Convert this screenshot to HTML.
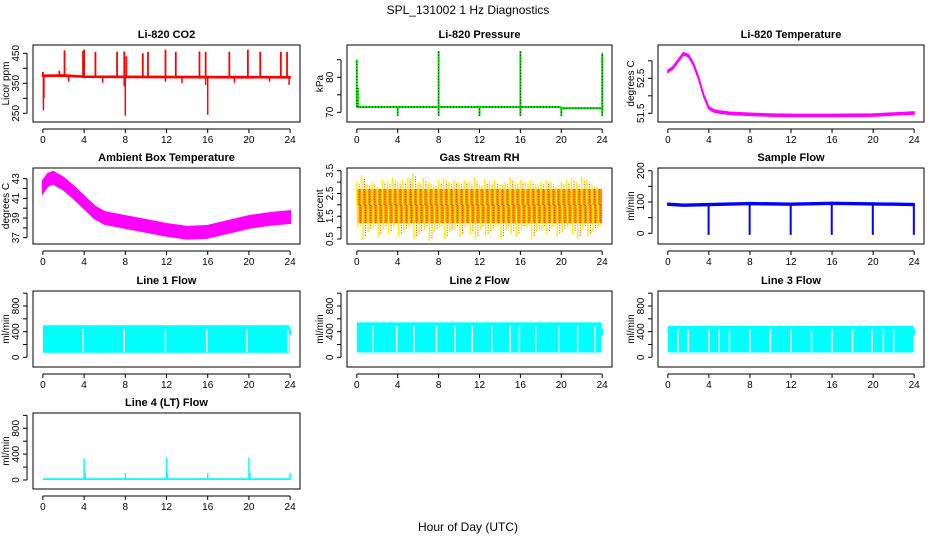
<!DOCTYPE html>
<html><head><meta charset="utf-8"><style>
body{margin:0;background:#fff}
svg{display:block;font-family:"Liberation Sans",sans-serif}
</style></head><body>
<svg id="c" width="936" height="540"></svg>
<script>
// ---- data (hours, values) ----
const hours=[0,4,8,12,16,20,24];
const co2Base=[[0,375],[2,376],[4,372],[12,371],[24,370]];
const co2SpikesUp=[[0,388],[1.6,392],[2.1,460],[3.9,458],[4,462],[5.1,455],[7.2,455],[7.9,456],[8.1,440],[9.7,450],[10.2,455],[11.9,462],[12.9,455],[15.2,456],[15.8,455],[18.1,455],[19.9,462],[21.1,455],[23.1,455],[23.7,455]];
const co2SpikesDown=[[0.05,260],[0.1,300],[8,242],[16,245],[7.9,340],[15.8,345],[23.9,345],[2.5,355],[5.8,352],[11.9,355],[13.5,350],[18.6,352],[22,355]];
const presBase=[[0,71.5],[19.9,71.5],[20,71.2],[24,71.2]];
const presSpikes=[[0,85,71.5],[0.1,77,71.5],[4,71.5,69],[8,87.5,69],[12,71.5,69],[16,87.5,69],[20,71.5,69],[24,87,69]];
const liTemp=[[0,52.7],[0.5,52.8],[1,53.0],[1.5,53.2],[2,53.15],[2.5,52.9],[3,52.5],[3.5,52.0],[4,51.65],[4.5,51.57],[5,51.54],[6,51.5],[8,51.47],[10,51.45],[12,51.44],[16,51.44],[20,51.45],[22,51.48],[24,51.51]];
const ambTemp=[[0,42.2],[0.5,42.9],[1,43.1],[2,42.5],[3,41.6],[4,40.6],[5,39.6],[6,39.0],[8,38.6],[10,38.2],[12,37.8],[14,37.5],[16,37.6],[18,38.1],[20,38.6],[22,38.9],[24,39.1]];
const rhHi=[3.0,3.3,2.9,3.0,2.8,3.1,3.0,3.2,3.0,3.1,3.2,3.4,3.0,3.2,3.0,2.9,3.1,3.2,3.0,3.1,3.0,3.1,3.0,3.2,2.9,3.1,3.0,3.1,2.9,3.0,3.2,3.0,3.1,3.0,3.1,2.9,3.0,3.1,3.0,2.8,3.0,3.1,3.2,3.0,3.2,3.1,2.9,2.8];
const rhLo=[1.0,0.5,0.8,1.0,0.6,0.9,0.7,1.0,0.6,0.8,1.0,0.5,0.7,0.9,0.4,0.8,1.0,0.5,0.8,0.9,0.6,1.0,0.7,0.5,0.9,0.6,0.8,1.0,0.5,0.9,0.7,0.6,0.9,1.0,0.5,0.8,0.9,0.7,1.0,0.6,0.8,1.0,0.7,0.5,0.9,0.6,0.8,1.0];
const sampleBase=[[0,93],[1.5,90],[8,95],[12,93],[16,96],[24,92]];
const sampleDrops=[4,8,12,16,20,24];
const line1=[70,500]; const line1Gaps=[3.9,7.9,11.9,15.9,19.8,23.8];
const line2=[75,545]; const line2Gaps=[1.6,3.9,5.6,7.8,9.6,11.3,13.2,15.0,15.9,17.5,19.8,21.6,23.3];
const line3=[75,490]; const line3Gaps=[1.0,2.0,4.0,5.0,6.0,8.0,10.0,12.0,14.0,16.0,18.0,19.9,21.0,22.0];
const line4Base=15; const line4Spikes=[[4,330],[4.1,110],[8,110],[12,345],[12.1,110],[16,110],[20,345],[20.1,110],[24,110]];
const titles=["Li-820 CO2","Li-820 Pressure","Li-820 Temperature","Ambient Box Temperature","Gas Stream RH","Sample Flow","Line 1 Flow","Line 2 Flow","Line 3 Flow","Line 4 (LT) Flow"];

const svg=document.getElementById('c');
const NS='http://www.w3.org/2000/svg';
function el(t,a,p){const e=document.createElementNS(NS,t);for(const k in a)e.setAttribute(k,a[k]);(p||svg).appendChild(e);return e;}
function txt(s,a,p){const e=el('text',a,p);e.textContent=s;return e;}

function panel(i,box,yv,ticks,labels,ylab){
  const g=el('g',{});
  
  
  const [L,T,R,B]=box,w=R-L;
  const x=h=>L+w*0.04/1.08+h*(w/1.08)/24;
  const [v1,p1,v2,p2]=yv;
  const y=v=>p1+(v-v1)*(p2-p1)/(v2-v1);
  const cp='cp'+i;
  const c=el('clipPath',{id:cp},g);el('rect',{x:L,y:T,width:w,height:B-T},c);
  const d=el('g',{'clip-path':'url(#'+cp+')'},g);
  
  
  el('rect',{x:L,y:T,width:w,height:B-T,fill:'none',stroke:'#000','stroke-width':1},g);
  const t=txt(titles[i],{x:(L+R)/2,y:T-7,'text-anchor':'middle','font-size':11,'font-weight':'bold'},g);
  
  
  const ay=B+7;
  el('line',{x1:x(0),x2:x(24),y1:ay,y2:ay,stroke:'#000'},g);
  hours.forEach(h=>{el('line',{x1:x(h),x2:x(h),y1:ay,y2:ay+4,stroke:'#000'},g);
    const l=txt(h,{x:x(h),y:ay+14,'text-anchor':'middle','font-size':10},g);
    
    });
  const ax=L-6;
  el('line',{x1:ax,x2:ax,y1:y(ticks[0]),y2:y(ticks[ticks.length-1]),stroke:'#000'},g);
  ticks.forEach(v=>el('line',{x1:ax-4,x2:ax,y1:y(v),y2:y(v),stroke:'#000'},g));
  labels.forEach(v=>{const l=txt(v,{transform:`translate(${ax-8},${y(v)}) rotate(-90)`,'text-anchor':'middle','font-size':10},g);
    
    });
  const yl=txt(ylab,{transform:`translate(${L-24},${(T+B)/2}) rotate(-90)`,'text-anchor':'middle','font-size':10},g);
  
  
  return {x,y,d};
}
function poly(pts,P,attrs){return el('polyline',Object.assign({points:pts.map(p=>P.x(p[0])+','+P.y(p[1])).join(' '),fill:'none'},attrs),P.d);}
function band(pts,P,dv,col,sw){const up=pts.map(p=>P.x(p[0])+','+P.y(p[1]+dv));const dn=pts.slice().reverse().map(p=>P.x(p[0])+','+P.y(p[1]-dv));
  return el('polygon',{points:up.concat(dn).join(' '),fill:col,stroke:col,'stroke-width':sw||2},P.d);}
function vl(P,h,a,b,col,sw,extra){return el('line',Object.assign({x1:P.x(h),x2:P.x(h),y1:P.y(a),y2:P.y(b),stroke:col,'stroke-width':sw||1.5},extra||{}),P.d);}

const rows=[[45,122],[168,244],[291,367],[413,489]];
const cols=[[33,300],[347,612],[658,924]];
const B=(r,c)=>[cols[c][0],rows[r][0],cols[c][1],rows[r][1]];
const flowT=[0,200,400,600,800,1000],flowL=[0,400,800];

let P=panel(0,B(0,0),[450,53.3,250,113.3],[250,300,350,400,450],[250,350,450],'Licor ppm');
band(co2Base,P,2,'#ff0000',1.5);
co2SpikesUp.forEach(s=>vl(P,s[0],372,s[1],'#ff0000',1.8));
co2SpikesDown.forEach(s=>vl(P,s[0],372,s[1],'#ff0000',1.5));

P=panel(1,B(0,1),[80,77.3,70,112.3],[70,75,80,85],[70,80],'kPa');
poly(presBase,P,{stroke:'#00ee00','stroke-width':2});
poly(presBase,P,{stroke:'#000','stroke-width':1,'stroke-dasharray':'1 2'});
presSpikes.forEach(s=>{vl(P,s[0],s[2],s[1],'#00ee00',2);vl(P,s[0],s[2],s[1],'#000',1,{'stroke-dasharray':'1 2'});});

P=panel(2,B(0,2),[52.5,78.3,51.5,113.3],[51.5,52,52.5,53],[51.5,52.5],'degrees C');
band(liTemp,P,0.03,'#ff00ff',1.5);

P=panel(3,B(1,0),[43,178.7,37,237.7],[37,38,39,40,41,42,43],[37,39,41,43],'degrees C');
band(ambTemp,P,0.6,'#ff00ff');

P=panel(4,B(1,1),[3.5,170.7,0.5,239],[0.5,1,1.5,2,2.5,3,3.5],[0.5,1.5,2.5,3.5],'percent');
el('rect',{x:P.x(0),y:P.y(2.7),width:P.x(24)-P.x(0),height:P.y(1.2)-P.y(2.7),fill:'#f59a10'},P.d);
rhHi.forEach((v,k)=>{const h=k*0.5;vl(P,h,2,v,'#ffee00',1.5);vl(P,h+0.25,2,v-0.1,'#ff2000',1,{'stroke-dasharray':'1 1.5'});});
rhLo.forEach((v,k)=>{const h=k*0.5+0.1;vl(P,h,2,v,'#ffee00',1.5);vl(P,h+0.25,2,v+0.1,'#ff2000',1,{'stroke-dasharray':'1 1.5'});});

P=panel(5,B(1,2),[200,170.7,0,233.3],[0,50,100,150,200],[0,100,200],'ml/min');
band(sampleBase,P,3,'#0000ff',1.5);
sampleDrops.forEach(h=>vl(P,h-0.03,92,-5,'#0000ff',2));

function flow(idx,r,c,rng,gaps){
  const P=panel(idx,B(r,c),[0,r==2?357.3:480,800,r==2?306:428.3],flowT,flowL,'ml/min');
  el('rect',{x:P.x(0),y:P.y(rng[1]),width:P.x(23.95)-P.x(0),height:P.y(rng[0])-P.y(rng[1]),fill:'#00ffff'},P.d);
  gaps.forEach(h=>vl(P,h,rng[0]+10,rng[1]-60,'#fff',1.5));
  vl(P,24,350,450,'#00ffff',2);
}
flow(6,2,0,line1,line1Gaps);
flow(7,2,1,line2,line2Gaps);
flow(8,2,2,line3,line3Gaps);
P=panel(9,[33,413,300,489],[0,480,800,428.3],flowT,flowL,'ml/min');
el('rect',{x:P.x(0),y:P.y(28),width:P.x(24)-P.x(0),height:P.y(0)-P.y(28),fill:'#00ffff'},P.d);
line4Spikes.forEach(s=>vl(P,s[0],line4Base,s[1],'#00ffff',1.5));

let t=txt('SPL_131002  1 Hz Diagnostics',{x:468,y:14,'text-anchor':'middle','font-size':12,'xml:space':'preserve'});


t=txt('Hour of Day (UTC)',{x:468,y:531,'text-anchor':'middle','font-size':12});


</script>
</body></html>
